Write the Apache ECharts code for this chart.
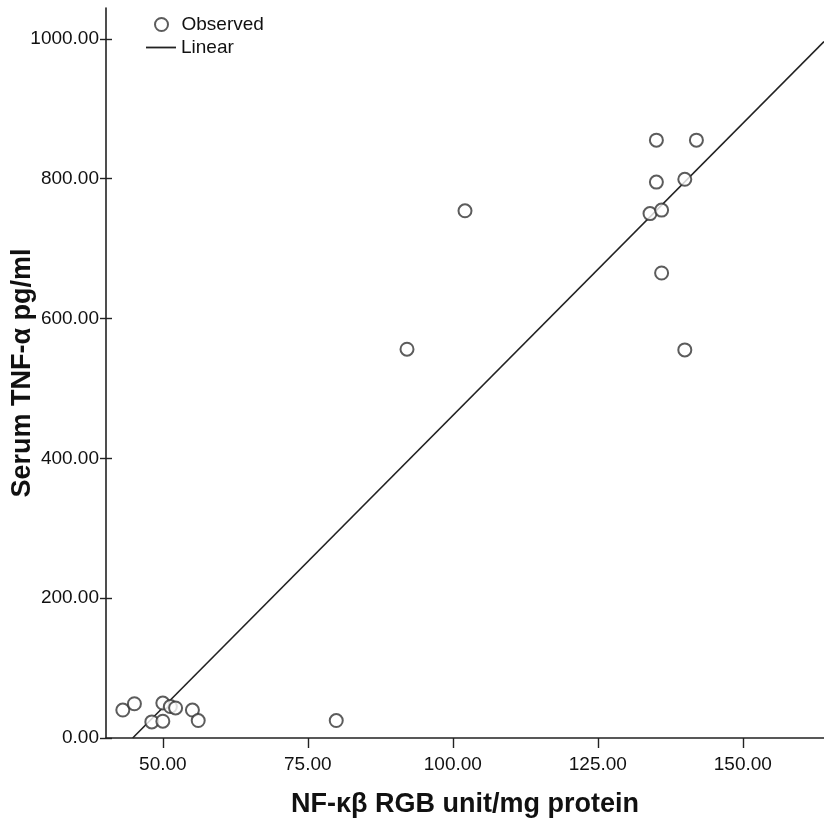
<!DOCTYPE html>
<html>
<head>
<meta charset="utf-8">
<script src="https://cdn.jsdelivr.net/npm/echarts@6/dist/echarts.min.js"></script>
<style>
html,body{margin:0;padding:0;background:#fff;}
#chart{width:824px;height:823px;}
</style>
</head>
<body>
<div id="chart"></div>
<script>
// Observed points: NF-κβ (x) vs Serum TNF-α (y)
const nfkb = [43.1, 45.1, 48.1, 50.0, 50.0, 51.3, 52.2, 55.1, 56.1, 79.9,
              92.1, 102.1,
              135.1, 142.0, 135.1, 140.0, 134.0, 136.0, 136.0, 140.0];
const tnf  = [40, 49, 23, 50, 24, 45, 43, 40, 25, 25,
              556, 754,
              855, 855, 795, 799, 750, 755, 665, 555];
// Linear fit line endpoints
const fitX = [44.8, 164];
const fitY = [0, 996];
const xTicks = [50, 75, 100, 125, 150];
const yTicks = [0, 200, 400, 600, 800, 1000];

const observed = nfkb.map((x, i) => [x, tnf[i]]);
const linear = fitX.map((x, i) => [x, fitY[i]]);

const font = '"Liberation Sans", Arial, sans-serif';
const chart = echarts.init(document.getElementById('chart'), null, {renderer: 'canvas'});
chart.setOption({
  animation: false,
  backgroundColor: '#fff',
  grid: {left: 106, right: 0, top: 8, bottom: 85, containLabel: false, outerBoundsMode: 'none'},
  legend: [{
    orient: 'vertical', left: 154, top: 15, padding: 0, itemWidth: 30, itemHeight: 13,
    icon: 'emptyCircle',
    itemStyle: {color: '#333', borderColor: '#333', borderWidth: 1.6},
    textStyle: {fontFamily: font, fontSize: 19, color: '#111'},
    data: ['Observed']
  }, {
    orient: 'vertical', left: 146, top: 38, padding: 0, itemWidth: 30, itemHeight: 1.8,
    icon: 'rect',
    itemStyle: {color: '#222', borderWidth: 0},
    textStyle: {fontFamily: font, fontSize: 19, color: '#111'},
    data: ['Linear']
  }],
  xAxis: {
    type: 'value', min: 40.2, max: 164,
    name: 'NF-κβ RGB unit/mg protein', nameLocation: 'middle', nameGap: 53, nameMoveOverlap: false,
    nameTextStyle: {fontFamily: font, fontSize: 27, fontWeight: 'bold', color: '#111'},
    axisLine: {show: true, lineStyle: {color: '#222', width: 1.6}},
    axisTick: {show: true, length: 10, customValues: xTicks, lineStyle: {color: '#222', width: 1.4}},
    axisLabel: {customValues: xTicks, margin: 17, fontFamily: font, fontSize: 19, color: '#111',
      formatter: v => v.toFixed(2)},
    splitLine: {show: false}
  },
  yAxis: [{
    type: 'value', min: 0, max: 1044,
    name: 'Serum TNF-α pg/ml', nameLocation: 'middle', nameGap: 70, nameRotate: 90, nameMoveOverlap: false,
    nameTextStyle: {fontFamily: font, fontSize: 27, fontWeight: 'bold', color: '#111'},
    axisLine: {show: true, lineStyle: {color: '#222', width: 1.6}},
    axisTick: {show: true, length: 6, customValues: yTicks, lineStyle: {color: '#222', width: 1.4}},
    axisLabel: {customValues: yTicks, margin: 7, fontFamily: font, fontSize: 19, color: '#111',
      formatter: v => v.toFixed(2)},
    splitLine: {show: false}
  }, {
    type: 'value', min: 0, max: 1044, position: 'left',
    axisLine: {show: false},
    axisTick: {show: true, inside: true, length: 6, customValues: yTicks, lineStyle: {color: '#222', width: 1.4}},
    axisLabel: {show: false},
    splitLine: {show: false}
  }],
  series: [{
    name: 'Observed', type: 'scatter', data: observed,
    symbol: 'emptyCircle', symbolSize: 13,
    itemStyle: {color: '#333', borderColor: '#333', borderWidth: 1.6},
    z: 3
  }, {
    name: 'Linear', type: 'line', data: linear,
    symbol: 'none', showSymbol: false,
    lineStyle: {color: '#222', width: 1.6},
    itemStyle: {color: '#222'},
    z: 2
  }]
});
</script>
</body>
</html>
